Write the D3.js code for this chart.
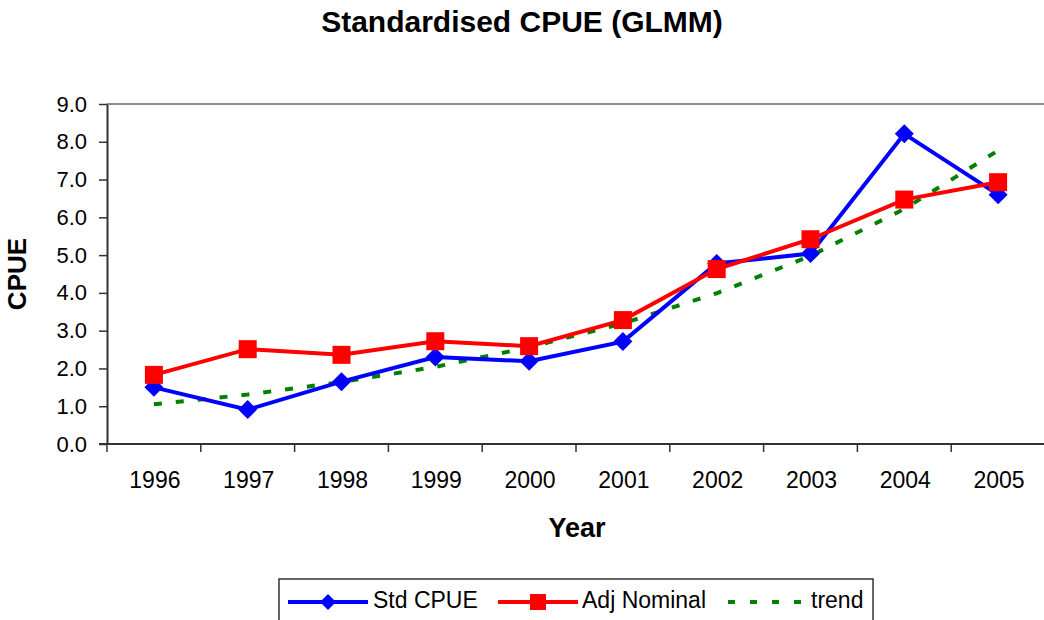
<!DOCTYPE html>
<html>
<head>
<meta charset="utf-8">
<script src="https://cdn.jsdelivr.net/npm/d3@7"></script>
<style>
  body { margin: 0; background: #fff; }
  text { font-family: Arial, "Liberation Sans", sans-serif; fill: #000; }
</style>
</head>
<body>
<svg id="chart" width="1044" height="620"></svg>
<script>
// data
const years = ["1996", "1997", "1998", "1999", "2000", "2001", "2002", "2003", "2004", "2005"];
const stdCpue = [1.50, 0.91, 1.65, 2.30, 2.19, 2.71, 4.78, 5.04, 8.21, 6.60];
const adjNominal = [1.83, 2.51, 2.36, 2.72, 2.59, 3.28, 4.63, 5.42, 6.47, 6.93];
const trend = [1.05, 1.31, 1.64, 2.04, 2.56, 3.19, 3.99, 4.98, 6.22, 7.77];
const yTicks = [0, 1, 2, 3, 4, 5, 6, 7, 8, 9];
const seriesNames = ["Std CPUE", "Adj Nominal", "trend"];

const svg = d3.select("#chart");

const plotLeft = 107, plotRight = 1045, plotTop = 104, plotBottom = 444;

const x = d3.scaleBand().domain(years).range([plotLeft, plotRight]);
const y = d3.scaleLinear().domain([0, 9]).range([plotBottom, plotTop]);
const cx = d => x(d) + x.bandwidth() / 2;

// title
svg.append("text")
    .attr("x", 522).attr("y", 32)
    .attr("text-anchor", "middle")
    .style("font-size", "30px").style("font-weight", "bold")
    .text("Standardised CPUE (GLMM)");

// plot frame top line
svg.append("line")
    .attr("x1", plotLeft).attr("x2", plotRight)
    .attr("y1", y(9)).attr("y2", y(9))
    .style("stroke", "#8c8c8c").style("stroke-width", 2);

// y axis
const yAxis = svg.append("g")
    .attr("transform", "translate(" + plotLeft + ",0)")
    .call(d3.axisLeft(y).tickValues(yTicks).tickFormat(d3.format(".1f"))
        .tickSize(8).tickSizeOuter(0).tickPadding(12));
yAxis.select(".domain").style("stroke", "#333").style("stroke-width", 2);
yAxis.selectAll(".tick line").style("stroke", "#333").style("stroke-width", 1.5);
yAxis.selectAll("text").style("font-size", "22px").style("font-family", "Arial, 'Liberation Sans', sans-serif");

// x axis line + ticks at category boundaries
svg.append("line")
    .attr("x1", plotLeft - 8).attr("x2", plotRight)
    .attr("y1", plotBottom).attr("y2", plotBottom)
    .style("stroke", "#333").style("stroke-width", 2);

const bounds = years.map(d => x(d)).concat([x.range()[1]]);
svg.selectAll(".xtick").data(bounds).enter().append("line")
    .attr("class", "xtick")
    .attr("x1", d => d).attr("x2", d => d)
    .attr("y1", plotBottom).attr("y2", plotBottom + 8)
    .style("stroke", "#333").style("stroke-width", 1.5);

svg.selectAll(".xlabel").data(years).enter().append("text")
    .attr("class", "xlabel")
    .attr("x", d => cx(d) + 1)
    .attr("y", 488)
    .attr("text-anchor", "middle")
    .style("font-size", "23px")
    .text(d => d);

// axis titles
svg.append("text")
    .attr("x", 577).attr("y", 537)
    .attr("text-anchor", "middle")
    .style("font-size", "27px").style("font-weight", "bold")
    .text("Year");

svg.append("text")
    .attr("transform", "translate(26," + ((plotTop + plotBottom) / 2) + ") rotate(-90)")
    .attr("text-anchor", "middle")
    .style("font-size", "26px").style("font-weight", "bold")
    .text("CPUE");

// lines
const line = d3.line().x((d, i) => cx(years[i])).y(d => y(d));

svg.append("path").datum(trend)
    .attr("d", line)
    .style("fill", "none").style("stroke", "#008000")
    .style("stroke-width", 4).style("stroke-dasharray", "8,14");

svg.append("path").datum(stdCpue)
    .attr("d", line)
    .style("fill", "none").style("stroke", "#0000ff").style("stroke-width", 4);

svg.selectAll(".diamond").data(stdCpue).enter().append("path")
    .attr("class", "diamond")
    .attr("transform", (d, i) => "translate(" + cx(years[i]) + "," + y(d) + ")")
    .attr("d", "M0,-9.5L9.5,0L0,9.5L-9.5,0Z")
    .style("fill", "#0000ff");

svg.append("path").datum(adjNominal)
    .attr("d", line)
    .style("fill", "none").style("stroke", "#ff0000").style("stroke-width", 4);

svg.selectAll(".square").data(adjNominal).enter().append("rect")
    .attr("class", "square")
    .attr("x", (d, i) => cx(years[i]) - 9)
    .attr("y", d => y(d) - 9)
    .attr("width", 18).attr("height", 18)
    .style("fill", "#ff0000");

// legend
const lg = svg.append("g");
lg.append("rect")
    .attr("x", 279).attr("y", 579)
    .attr("width", 594).attr("height", 60)
    .style("fill", "#fff").style("stroke", "#333").style("stroke-width", 1.5);

const ly = 602;
const items = [
    { name: seriesNames[0], x0: 288, color: "#0000ff", marker: "diamond", tx: 373 },
    { name: seriesNames[1], x0: 498, color: "#ff0000", marker: "square", tx: 582 },
    { name: seriesNames[2], x0: 728, color: "#008000", marker: "none", tx: 811 }
];

items.forEach(it => {
    const w = it.marker === "none" ? 76 : 80;
    lg.append("line")
        .attr("x1", it.x0).attr("x2", it.x0 + w)
        .attr("y1", ly).attr("y2", ly)
        .style("stroke", it.color).style("stroke-width", 4)
        .style("stroke-dasharray", it.marker === "none" ? "7,15" : null);
    const mx = it.x0 + 40;
    if (it.marker === "diamond") {
        lg.append("path")
            .attr("transform", "translate(" + mx + "," + ly + ")")
            .attr("d", "M0,-8L8,0L0,8L-8,0Z")
            .style("fill", it.color);
    } else if (it.marker === "square") {
        lg.append("rect")
            .attr("x", mx - 8).attr("y", ly - 8)
            .attr("width", 16).attr("height", 16)
            .style("fill", it.color);
    }
    lg.append("text")
        .attr("x", it.tx).attr("y", 608)
        .style("font-size", "23px")
        .text(it.name);
});
</script>
</body>
</html>
